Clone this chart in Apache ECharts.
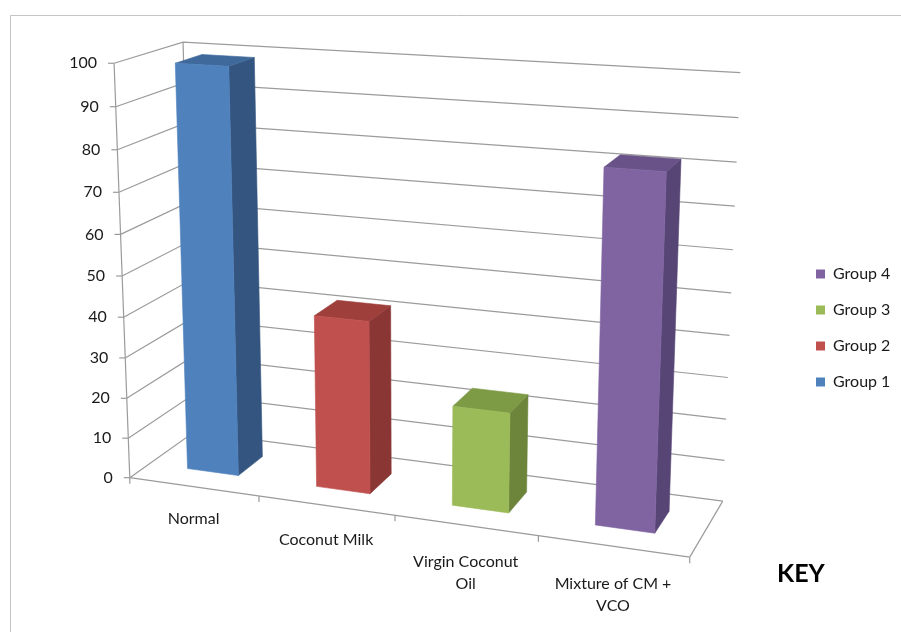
<!DOCTYPE html>
<html><head><meta charset="utf-8">
<script src="https://cdn.jsdelivr.net/npm/echarts@6/dist/echarts.min.js"></script>
<style>html,body{margin:0;padding:0;background:#fff}#c{width:901px;height:632px}</style>
</head><body><div id="c"></div>
<script>
// ---------------- DATA ----------------
const categories = ['Normal', 'Coconut Milk', 'Virgin Coconut\nOil', 'Mixture of CM +\nVCO'];
const seriesNames = ['Group 1', 'Group 2', 'Group 3', 'Group 4'];
const values = [99, 42, 24, 82];
const yTicks = [0, 10, 20, 30, 40, 50, 60, 70, 80, 90, 100];
const legendOrder = ['Group 4', 'Group 3', 'Group 2', 'Group 1'];

// ---------------- STYLE / LAYOUT ----------------
const FONT = 'Lato, "Open Sans", sans-serif';
const TEXT = '#1a1a1a';
const GRID_LINE = '#9b9b9b';
const faceColors = [
  { front: '#4F81BD', side: '#34557F', top: '#3F699B' },
  { front: '#C0504D', side: '#8A3634', top: '#9E3F3C' },
  { front: '#9BBB59', side: '#6C853B', top: '#7D9A45' },
  { front: '#8064A2', side: '#574575', top: '#685287' }
];
// camera calibration: normalized box (u along categories, v along values, w along depth) -> screen px
const ANCHORS = [
  [0, 0, 0, 130, 478], [0, 1, 0, 114, 63], [0, 1, 1, 183, 42], [1, 1, 1, 740, 72],
  [1, 0, 1, 723, 501], [1, 0, 0, 690, 557], [0.25, 0, 0, 259, 496], [0.5, 0, 0, 395, 515],
  [0.75, 0, 0, 538, 536], [1, 0.5, 1, 731, 293], [1, 0.2, 1, 726, 419], [1, 0.8, 1, 737, 163],
  [0, 0.1, 0, 128, 438], [0, 0.9, 0, 116, 107]
];
const BAR_W = 0.4;          // bar width as a fraction of its slot
const DEPTH = [0.3, 0.7];   // bar depth range

function fitCamera(anchors) {
  const n = 11, M = [], r = new Array(n).fill(0);
  for (let i = 0; i < n; i++) M.push(new Array(n).fill(0));
  const rows = [];
  anchors.forEach(([X, Y, Z, x, y]) => {
    rows.push([[X, Y, Z, 1, 0, 0, 0, 0, -x * X, -x * Y, -x * Z], x]);
    rows.push([[0, 0, 0, 0, X, Y, Z, 1, -y * X, -y * Y, -y * Z], y]);
  });
  rows.forEach(([a, b]) => {
    for (let i = 0; i < n; i++) {
      r[i] += a[i] * b;
      for (let j = 0; j < n; j++) M[i][j] += a[i] * a[j];
    }
  });
  for (let c = 0; c < n; c++) {
    let p = c;
    for (let k = c + 1; k < n; k++) if (Math.abs(M[k][c]) > Math.abs(M[p][c])) p = k;
    [M[c], M[p]] = [M[p], M[c]]; [r[c], r[p]] = [r[p], r[c]];
    for (let k = c + 1; k < n; k++) {
      const f = M[k][c] / M[c][c];
      for (let j = c; j < n; j++) M[k][j] -= f * M[c][j];
      r[k] -= f * r[c];
    }
  }
  const s = new Array(n).fill(0);
  for (let c = n - 1; c >= 0; c--) {
    let acc = r[c];
    for (let j = c + 1; j < n; j++) acc -= M[c][j] * s[j];
    s[c] = acc / M[c][c];
  }
  return s;
}
const P = fitCamera(ANCHORS);
function proj(u, v, w) {
  const d = P[8] * u + P[9] * v + P[10] * w + 1;
  return [(P[0] * u + P[1] * v + P[2] * w + P[3]) / d, (P[4] * u + P[5] * v + P[6] * w + P[7]) / d];
}
// hidden 100x100 grid gives the normalized scales
function norm(api, idx, val) {
  const c = api.coord([idx, val]);
  return [c[0] / 100, 1 - c[1] / 100];
}
function line(a, b, color, lw) {
  return { type: 'line', shape: { x1: a[0], y1: a[1], x2: b[0], y2: b[1] }, style: { stroke: color || GRID_LINE, lineWidth: lw || 1.2 } };
}
function poly(pts, fill) {
  return { type: 'polygon', shape: { points: pts }, style: { fill: fill, stroke: fill, lineWidth: 0.6 } };
}

const wallSeries = {
  type: 'custom', name: '_walls', z: 1, silent: true,
  data: yTicks.map(v => [0, v]),
  renderItem(params, api) {
    const v = api.value(1);
    const vn = norm(api, 0, v)[1];
    const a = proj(0, vn, 0), b = proj(0, vn, 1), c = proj(1, vn, 1);
    return {
      type: 'group', children: [
        { type: 'polyline', shape: { points: [a, b, c] }, style: { stroke: GRID_LINE, lineWidth: 1.2, fill: null } },
        line(a, [a[0] - 6, a[1]]),
        { type: 'text', style: { x: a[0] - 17, y: a[1], text: String(v), align: 'right', verticalAlign: 'middle', fontFamily: FONT, fontSize: 16, fill: TEXT } }
      ]
    };
  }
};

const frameSeries = {
  type: 'custom', name: '_frame', z: 1, silent: true,
  data: [[0, 0]],
  renderItem(params, api) {
    const top = norm(api, 0, yTicks[yTicks.length - 1])[1];
    const ch = [
      line(proj(0, 0, 0), proj(0, top, 0)),
      line(proj(0, 0, 1), proj(0, top, 1)),
      line(proj(0, 0, 0), proj(1, 0, 0)),
      line(proj(1, 0, 0), proj(1, 0, 1))
    ];
    for (let k = 0; k <= categories.length; k++) {
      const p = proj(k / categories.length, 0, 0);
      ch.push(line(p, [p[0], p[1] + 6]));
    }
    return { type: 'group', children: ch };
  }
};

const labelSeries = {
  type: 'custom', name: '_labels', z: 3, silent: true,
  data: categories.map((c, i) => [i, 0]),
  renderItem(params, api) {
    const i = api.value(0);
    const uc = norm(api, i, 0)[0];
    const p = proj(uc, 0, 0);
    return { type: 'text', style: { x: p[0], y: p[1] + 20 + 8 * uc, text: categories[i], align: 'center', verticalAlign: 'top', lineHeight: 22, fontFamily: FONT, fontSize: 16, fill: TEXT } };
  }
};

function barSeries(i) {
  const col = faceColors[i];
  return {
    type: 'custom', name: seriesNames[i], z: 2,
    itemStyle: { color: col.front },
    data: [[i, values[i]]],
    renderItem(params, api) {
      const idx = api.value(0), val = api.value(1);
      const [uc, vt] = norm(api, idx, val);
      const v0 = norm(api, idx, 0)[1];
      const slot = api.size([1, 0])[0] / 100;
      const u0 = uc - slot * BAR_W / 2, u1 = uc + slot * BAR_W / 2;
      const [w0, w1] = DEPTH;
      return {
        type: 'group', children: [
          poly([proj(u1, v0, w0), proj(u1, v0, w1), proj(u1, vt, w1), proj(u1, vt, w0)], col.side),
          poly([proj(u0, vt, w0), proj(u1, vt, w0), proj(u1, vt, w1), proj(u0, vt, w1)], col.top),
          poly([proj(u0, v0, w0), proj(u1, v0, w0), proj(u1, vt, w0), proj(u0, vt, w0)], col.front)
        ]
      };
    }
  };
}

const chart = echarts.init(document.getElementById('c'), null, { renderer: 'canvas' });
chart.setOption({
  animation: false,
  backgroundColor: '#ffffff',
  grid: { left: 0, top: 0, width: 100, height: 100, show: false },
  xAxis: { type: 'category', data: categories, show: false },
  yAxis: { type: 'value', min: yTicks[0], max: yTicks[yTicks.length - 1], show: false },
  legend: {
    data: legendOrder, orient: 'vertical', left: 816, top: 266, padding: 0,
    itemWidth: 9, itemHeight: 9, itemGap: 20, icon: 'rect',
    textStyle: { fontFamily: FONT, fontSize: 16, color: TEXT, padding: [0, 0, 0, 3] }
  },
  graphic: [
    { type: 'polyline', silent: true, shape: { points: [[10.5, 640], [10.5, 15.5], [905, 15.5]] }, style: { stroke: '#c4c4c4', lineWidth: 1, fill: null } },
    { type: 'text', silent: true, style: { x: 777, y: 574, text: 'KEY', fontFamily: FONT, fontSize: 25, fontWeight: 'bold', fill: '#000', verticalAlign: 'middle' } }
  ],
  series: [wallSeries, frameSeries].concat(seriesNames.map((n, i) => barSeries(i))).concat([labelSeries])
});
</script>
</body></html>
